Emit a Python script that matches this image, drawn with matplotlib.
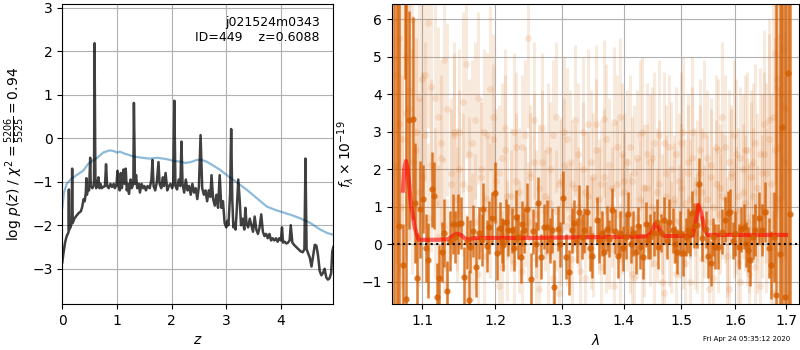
import numpy as np
import matplotlib
matplotlib.use("Agg")
import matplotlib.pyplot as plt
from matplotlib.ticker import FixedLocator, FormatStrFormatter, NullLocator, NullFormatter

# ---------------- left panel: log p(z) ----------------
pz_z = [0.00, 0.02, 0.05, 0.08, 0.10, 0.115, 0.12, 0.125, 0.15, 0.17, 0.18, 0.19, 0.22, 0.26, 0.30,
        0.34, 0.36, 0.39, 0.41, 0.43, 0.44, 0.45, 0.47, 0.49, 0.51, 0.52, 0.55, 0.57, 0.58, 0.59,
        0.605, 0.62, 0.65, 0.66, 0.68, 0.70, 0.72, 0.75, 0.78, 0.80, 0.82, 0.85, 0.88, 0.91, 0.94,
        0.96, 0.99, 1.01, 1.03, 1.05, 1.07, 1.09, 1.12, 1.14, 1.16, 1.18, 1.20, 1.22, 1.25, 1.27,
        1.30, 1.31, 1.33, 1.35, 1.37, 1.40, 1.42, 1.45, 1.48, 1.50, 1.53, 1.56, 1.60, 1.63, 1.65,
        1.67, 1.70, 1.73, 1.76, 1.78, 1.81, 1.84, 1.86, 1.89, 1.92, 1.95, 1.98, 2.01, 2.03, 2.05,
        2.07, 2.10, 2.13, 2.16, 2.18, 2.20, 2.23, 2.26, 2.29, 2.32, 2.35, 2.38, 2.41, 2.44, 2.47,
        2.50, 2.53, 2.56, 2.59, 2.62, 2.65, 2.68, 2.71, 2.73, 2.76, 2.79, 2.82, 2.85, 2.88, 2.91,
        2.94, 2.97, 3.00, 3.02, 3.04, 3.07, 3.09, 3.11, 3.13, 3.15, 3.17, 3.19, 3.22, 3.25, 3.27,
        3.30, 3.33, 3.35, 3.37, 3.40, 3.43, 3.46, 3.49, 3.52, 3.55, 3.58, 3.61, 3.64, 3.67, 3.70,
        3.73, 3.76, 3.79, 3.82, 3.85, 3.88, 3.91, 3.94, 3.97, 4.00, 4.02, 4.04, 4.07, 4.10, 4.13,
        4.16, 4.18, 4.21, 4.24, 4.28, 4.32, 4.36, 4.40, 4.43, 4.45, 4.47, 4.50, 4.53, 4.56, 4.59,
        4.62, 4.65, 4.68, 4.71, 4.74, 4.77, 4.80, 4.83, 4.86, 4.89, 4.92, 4.94, 4.96]
pz_logp = [-2.85, -2.65, -2.40, -2.25, -2.20, -2.15, -1.18, -2.10, -2.05, -1.95, -0.70, -1.95, -1.85, -1.78, -1.72,
           -1.68, -1.60, -1.40, -1.45, -1.25, -0.92, -1.30, -1.15, -1.20, -0.45, -1.10, -1.15, -1.10, -0.95, 2.18,
           -0.90, -1.15, -1.05, -0.90, -1.15, -1.05, -1.15, -1.12, -1.10, -0.60, -1.10, -1.15, -1.05, -1.12, -1.05,
           -1.15, -1.08, -0.75, -1.10, -1.20, -0.80, -1.15, -0.72, -1.05, -0.70, -1.20, -1.05, -1.28, -0.95, -1.15,
           -1.05, 0.81, -1.05, -0.85, -1.15, -1.05, -1.25, -1.05, -1.15, -1.10, -1.20, -1.10, -1.15, -0.95, -0.50,
           -1.10, -1.20, -1.00, -0.55, -1.05, -1.15, -0.90, -1.10, -0.80, -1.20, -1.10, -1.05, -1.15, -1.05, 0.86,
           -1.10, -1.18, -0.95, -1.10, -0.08, -1.05, -1.25, -0.95, -1.20, -1.10, -1.30, -1.05, -1.25, -1.15, -1.40,
           -1.10, 0.07, -1.15, -1.30, -1.20, -1.45, -1.20, -1.35, -0.85, -1.40, -1.55, -1.30, -1.60, -0.85, -1.60,
           -1.45, -1.95, -2.05, -1.90, -2.00, -1.30, 0.21, -1.40, -2.05, -1.95, -2.10, -1.70, -0.95, -1.50, -2.00,
           -1.85, -2.10, -1.60, -1.95, -2.05, -1.85, -2.00, -2.15, -1.80, -2.10, -2.20, -2.05, -1.75, -2.15, -2.25,
           -2.20, -2.30, -2.20, -2.35, -2.30, -2.35, -2.30, -2.38, -2.30, -2.35, -2.05, -2.40, -2.38, -2.42, -2.40,
           -2.35, -2.00, -2.40, -2.45, -2.50, -2.55, -2.60, -2.62, -2.55, -0.47, -2.55, -2.65, -2.75, -2.95, -2.70,
           -2.45, -2.47, -2.70, -3.05, -3.15, -3.10, -3.00, -3.20, -3.25, -3.22, -3.10, -2.60, -2.50]

prior_z = [0.00, 0.03, 0.08, 0.15, 0.26, 0.38, 0.48, 0.63, 0.75, 0.87, 0.95, 1.00, 1.05, 1.15, 1.30,
           1.45, 1.60, 1.73, 1.90, 2.03, 2.15, 2.25, 2.35, 2.46, 2.55, 2.64, 2.75, 2.89, 3.00, 3.13,
           3.25, 3.38, 3.55, 3.74, 3.90, 4.05, 4.20, 4.35, 4.54, 4.72, 4.85, 4.96]
prior_logp = [-1.60, -1.25, -1.05, -0.95, -0.85, -0.75, -0.58, -0.46, -0.33, -0.28, -0.30, -0.33, -0.31, -0.36, -0.42,
              -0.45, -0.47, -0.45, -0.48, -0.52, -0.54, -0.57, -0.55, -0.50, -0.50, -0.54, -0.62, -0.73, -0.84, -0.96,
              -1.07, -1.19, -1.37, -1.57, -1.65, -1.71, -1.77, -1.84, -1.95, -2.10, -2.18, -2.22]

obj_name = "j021524m0343"
obj_id = 449
z_best = 0.6088
chi2_num, chi2_den, chi2_red = 5206, 5525, 0.94
zticks = [0, 1, 2, 3, 4]
pz_yticks = [-3, -2, -1, 0, 1, 2, 3]

# ---------------- right panel: spectrum ----------------
light_wave = [1.066, 1.070, 1.074, 1.079, 1.083, 1.087, 1.092, 1.096, 1.100, 1.104,
              1.108, 1.112, 1.117, 1.121, 1.125, 1.129, 1.133, 1.138, 1.142, 1.146,
              1.150, 1.155, 1.159, 1.163, 1.167, 1.172, 1.176, 1.180, 1.184, 1.189,
              1.193, 1.197, 1.201, 1.206, 1.210, 1.214, 1.218, 1.223, 1.227, 1.231,
              1.235, 1.240, 1.244, 1.248, 1.252, 1.257, 1.261, 1.265, 1.269, 1.274,
              1.278, 1.282, 1.286, 1.291, 1.295, 1.299, 1.303, 1.308, 1.312, 1.316,
              1.320, 1.325, 1.329, 1.333, 1.337, 1.342, 1.346, 1.350, 1.354, 1.359,
              1.363, 1.367, 1.371, 1.376, 1.380, 1.384, 1.388, 1.393, 1.397, 1.401,
              1.405, 1.410, 1.414, 1.418, 1.422, 1.427, 1.431, 1.435, 1.439, 1.444,
              1.448, 1.452, 1.456, 1.461, 1.465, 1.469, 1.473, 1.478, 1.482, 1.486,
              1.490, 1.495, 1.499, 1.503, 1.507, 1.512, 1.516, 1.520, 1.524, 1.529,
              1.533, 1.537, 1.541, 1.546, 1.550, 1.554, 1.558, 1.563, 1.567, 1.571,
              1.575, 1.580, 1.584, 1.588, 1.592, 1.597, 1.601, 1.605, 1.609, 1.614,
              1.618, 1.622, 1.626, 1.631, 1.635, 1.639, 1.643, 1.648, 1.652, 1.656,
              1.660, 1.665, 1.669, 1.673, 1.677, 1.682, 1.686, 1.690, 1.694, 1.699]
light_flux_a = [4.5, 3.2, 2.8, 5.0, 3.6, 2.2, 3.0, 1.4, 4.4,
                2.9, 5.9, 4.2, 1.1, 3.4, 2.7, 0.5, 3.6, 1.9, 2.9, 0.8,
                3.0, 1.6, 4.8, 2.4, 0.2, 3.3, -0.8, 2.0, 3.0, 1.2,
                4.15, 2.8, 0.6, 1.9, -0.6, 2.5, 1.3, 0.9, 3.0, 1.7,
                0.2, 2.6, 1.0, 5.5, 1.8, 2.2, -0.4, 1.5, 3.1, 0.9,
                2.5, 1.1, -0.9, 3.4, 1.6, 0.4, 2.1, 2.8, 0.7, 1.6,
                3.3, 1.0, -0.7, 2.0, 1.4, 3.2, 0.3, 1.8, 2.5, 1.2,
                1.6, 3.35, 0.2, 2.1, 1.0, 3.25, 1.6, -0.4, 2.4, 1.4,
                0.8, 2.6, 1.7, -0.9, 2.3, 1.2, 3.0, 0.1, 1.5, 2.2,
                1.0, 2.7, 0.5, 1.6, -1.0, 2.7, 1.3, 0.4, 2.0, 1.1,
                2.4, 0.6, 1.5, 3.0, -0.5, 1.9, 1.2, 2.3, 0.3, 1.6,
                2.5, 1.4, 0.6, 2.3, -1.2, 1.8, 1.0, 2.6, 0.2, 1.5,
                3.4, 1.2, -0.3, 2.2, 1.9, 0.7, 2.4, 1.3, -1.0, 2.0,
                1.1, 2.5, 0.4, 1.8, 2.2, -0.6, 1.5, 2.4, 1.0, 3.2,
                1.9, 2.8, -0.8, 3.4, 5.1, 4.2, 2.6, 4.0, 3.7, 2.2]
light_err_a = [5.0, 4.0, 4.0, 4.5, 3.5, 3.0, 3.0, 2.5, 3.0,
               2.5, 2.8, 2.5, 2.0, 2.4, 2.2, 1.8, 2.3, 2.0, 2.2, 1.8,
               2.2, 1.9, 2.5, 2.0, 1.7, 2.1, 1.6, 1.9, 2.2, 1.7,
               2.2, 2.0, 1.6, 1.8, 1.5, 2.0, 1.7, 1.6, 2.1, 1.8,
               1.5, 1.9, 1.6, 2.4, 1.7, 1.8, 1.5, 1.7, 2.0, 1.6,
               1.8, 1.5, 1.4, 2.0, 1.7, 1.5, 1.8, 1.9, 1.5, 1.7,
               2.0, 1.6, 1.4, 1.8, 1.6, 2.0, 1.5, 1.7, 1.9, 1.6,
               1.7, 2.1, 1.5, 1.8, 1.6, 2.0, 1.7, 1.5, 1.9, 1.6,
               1.5, 1.9, 1.7, 1.4, 1.8, 1.6, 2.0, 1.5, 1.7, 1.8,
               1.6, 1.9, 1.5, 1.7, 1.4, 1.9, 1.6, 1.5, 1.8, 1.6,
               1.8, 1.5, 1.7, 2.0, 1.5, 1.8, 1.6, 1.9, 1.5, 1.7,
               1.9, 1.7, 1.5, 1.8, 1.5, 1.8, 1.6, 1.9, 1.5, 1.7,
               2.0, 1.7, 1.6, 1.9, 1.8, 1.6, 2.0, 1.8, 1.6, 2.0,
               1.8, 2.1, 1.7, 2.0, 2.1, 1.8, 2.0, 2.3, 1.9, 2.5,
               2.4, 2.8, 2.2, 3.0, 3.5, 3.5, 3.0, 4.0, 4.0, 3.5]
light_flux_b = [2.1, 5.5, 1.0, 3.5, 4.1, 6.0, 2.5, 3.9, 1.8,
                4.5, 0.7, 2.1, 3.9, 0.2, 2.3, 4.9, -0.6, 1.6, 3.0, 1.2,
                2.0, 3.8, -0.9, 1.5, 2.7, 0.6, 3.9, 1.8, -0.3, 2.9,
                0.9, 3.4, 1.7, -1.1, 2.3, 3.1, 0.1, 1.3, -0.5, 2.6,
                1.4, -0.7, 2.9, 0.6, 1.9, 3.3, 0.8, -1.2, 2.2, 1.3,
                -0.2, 2.0, 2.9, 0.9, -1.3, 1.7, 3.0, 0.5, 2.2, -0.4,
                1.5, 2.4, 0.6, 3.0, -0.9, 1.3, 2.2, 0.2, 3.2, 0.9,
                -0.6, 1.8, 2.8, 0.4, 1.5, -1.1, 2.6, 3.4, 0.8, 1.7,
                2.2, 0.3, -0.8, 1.9, 0.7, 2.9, -0.3, 1.5, 2.4, 0.5,
                2.3, -0.5, 1.4, 2.9, 0.8, -1.3, 1.9, 2.6, 0.2, 1.2,
                -0.8, 1.7, 2.7, 0.4, 1.1, 2.2, -1.0, 3.0, 1.4, 0.3,
                1.9, -0.4, 2.9, 1.2, 0.6, 2.1, -0.9, 1.6, 2.5, 0.8,
                1.3, 2.6, 0.2, -1.2, 1.8, 2.9, 0.9, -0.5, 2.3, 1.4,
                2.5, 0.6, -0.8, 2.1, 1.3, 2.7, 0.4, -1.1, 1.9, 2.4,
                0.9, 3.3, 1.6, -1.3, 2.5, 4.4, 1.2, 3.0, 5.2, 3.6]
light_err_b = [4.5, 5.0, 3.5, 3.8, 4.0, 4.5, 3.0, 3.5, 2.8,
               2.8, 2.0, 2.3, 2.6, 1.9, 2.2, 2.7, 1.8, 2.0, 2.4, 1.9,
               2.1, 2.4, 1.7, 1.9, 2.2, 1.8, 2.3, 2.0, 1.7, 2.2,
               1.8, 2.2, 1.9, 1.5, 2.0, 2.1, 1.6, 1.8, 1.5, 2.0,
               1.7, 1.5, 2.0, 1.6, 1.8, 2.1, 1.7, 1.4, 1.9, 1.7,
               1.5, 1.8, 2.0, 1.6, 1.4, 1.7, 2.0, 1.6, 1.9, 1.5,
               1.7, 1.9, 1.6, 2.0, 1.5, 1.7, 1.9, 1.6, 2.1, 1.7,
               1.5, 1.8, 2.0, 1.6, 1.7, 1.4, 1.9, 2.1, 1.6, 1.8,
               1.9, 1.6, 1.5, 1.8, 1.6, 2.0, 1.5, 1.7, 1.9, 1.6,
               1.9, 1.5, 1.7, 2.0, 1.6, 1.4, 1.8, 1.9, 1.5, 1.7,
               1.5, 1.8, 1.9, 1.6, 1.7, 1.8, 1.5, 2.0, 1.7, 1.6,
               1.8, 1.5, 2.0, 1.7, 1.6, 1.8, 1.5, 1.7, 1.9, 1.6,
               1.7, 1.9, 1.6, 1.5, 1.8, 2.0, 1.7, 1.5, 1.9, 1.8,
               2.0, 1.7, 1.6, 2.0, 1.8, 2.1, 1.7, 1.6, 2.1, 2.2,
               2.2, 2.7, 2.4, 2.2, 3.0, 3.5, 3.0, 3.5, 4.0, 4.0]

dark_wave = [1.0635, 1.0668, 1.0700, 1.0746, 1.0777, 1.0787, 1.0826, 1.0874, 1.0904, 1.0935,
             1.0970, 1.1013, 1.1045, 1.1079, 1.1124, 1.1159, 1.1191, 1.1226, 1.1260, 1.1295,
             1.1334, 1.1370, 1.1408, 1.1445, 1.1484, 1.1522, 1.1563, 1.1600, 1.1628, 1.1646,
             1.1690, 1.1726, 1.1770, 1.1811, 1.1833, 1.1881, 1.1915, 1.1952, 1.2001, 1.2033,
             1.2071, 1.2095, 1.2119, 1.2155, 1.2192, 1.2242, 1.2275, 1.2305, 1.2340, 1.2374,
             1.2400, 1.2428, 1.2473, 1.2524, 1.2554, 1.2600, 1.2638, 1.2674, 1.2725, 1.2775,
             1.2810, 1.2843, 1.2883, 1.2940, 1.2975, 1.3013, 1.3065, 1.3107, 1.3154, 1.3190,
             1.3230, 1.3274, 1.3310, 1.3349, 1.3402, 1.3440, 1.3480, 1.3554, 1.3595, 1.3636,
             1.3680, 1.3718, 1.3760, 1.3811, 1.3855, 1.3900, 1.3938, 1.3993, 1.4035, 1.4077,
             1.4115, 1.4152, 1.4208, 1.4240, 1.4276, 1.4322, 1.4374, 1.4410, 1.4448, 1.4523,
             1.4560, 1.4593, 1.4640, 1.4693, 1.4740, 1.4781, 1.4847, 1.4880, 1.4918, 1.4977,
             1.5037, 1.5080, 1.5127, 1.5160, 1.5189, 1.5228, 1.5280, 1.5327, 1.5383, 1.5440,
             1.5490, 1.5538, 1.5580, 1.5618, 1.5680, 1.5744, 1.5807, 1.5851, 1.5902, 1.5950,
             1.5997, 1.6061, 1.6110, 1.6158, 1.6200, 1.6235, 1.6288, 1.6340, 1.6386, 1.6451,
             1.6518, 1.6584, 1.6649, 1.6698, 1.6750, 1.6804, 1.6871, 1.6920, 1.6973, 1.7034,
             1.7089]
dark_flux = [7.0, -2.5, 0.5, -0.55, 8.0, -1.46, 3.31, 3.35, 1.09, -0.90,
             0.93, 1.20, -0.10, -0.42, 1.47, 1.30, -1.40, -0.91, -0.20, 0.30,
             -1.25, 0.10, 0.54, 0.20, 0.54, 0.57, -0.86, 0.05, -1.48, -0.06,
             0.35, -0.60, 0.30, 0.12, 0.93, -0.05, 0.45, 0.70, 1.38, -0.24,
             0.44, 0.10, -0.02, 0.60, 0.38, 0.38, -0.10, 0.74, 0.20, -0.33,
             0.55, 0.38, 0.93, -0.93, 0.35, 0.00, 1.09, -0.33, 0.47, 0.47,
             0.10, 0.38, -1.13, 0.42, 0.00, 1.24, -0.33, -0.75, 0.38, 0.57,
             0.10, 0.87, 0.20, 0.38, 0.87, -0.10, -0.31, 0.65, 0.10, 0.29,
             -0.20, 0.42, 0.15, 0.91, 0.35, -0.30, 0.29, -0.10, 0.20, 0.80,
             0.00, 0.29, -0.20, 0.50, -0.06, -0.33, 0.54, 0.10, 0.20, 0.29,
             0.60, -0.06, 0.30, 0.65, 0.10, 0.60, 0.38, 0.00, -0.20, 0.29,
             -0.24, 0.20, 0.38, 0.29, 0.83, 0.50, 0.51, 1.60, 0.16, 0.40,
             -0.30, -0.51, 0.20, -0.06, -0.06, 0.34, 0.65, 0.83, 0.87, 0.10,
             0.29, -0.06, 0.40, 0.47, 0.00, -0.15, -0.42, 0.20, 0.38, 0.70,
             0.38, 0.87, -0.10, -0.55, 0.20, -1.35, -0.27, 3.13, -1.40, 4.57,
             0.80]
dark_err = [10.0, 10.0, 9.0, 1.1, 3.6, 9.0, 2.9, 2.7, 1.6, 1.2,
            1.3, 0.9, 0.9, 1.0, 1.0, 0.9, 0.9, 0.9, 0.8, 0.9,
            0.8, 0.8, 0.8, 0.7, 0.8, 0.7, 0.8, 0.7, 0.8, 0.7,
            0.7, 0.8, 0.7, 0.7, 0.7, 0.7, 0.7, 0.7, 0.8, 0.7,
            0.7, 0.6, 0.7, 0.6, 0.7, 0.6, 0.6, 0.7, 0.6, 0.7,
            0.6, 0.6, 0.7, 0.7, 0.6, 0.6, 0.7, 0.6, 0.6, 0.7,
            0.6, 0.6, 0.7, 0.6, 0.6, 0.7, 0.6, 0.6, 0.6, 0.6,
            0.6, 0.7, 0.6, 0.6, 0.7, 0.6, 0.6, 0.6, 0.6, 0.6,
            0.6, 0.6, 0.5, 0.6, 0.6, 0.6, 0.6, 0.6, 0.6, 0.6,
            0.5, 0.6, 0.6, 0.5, 0.6, 0.6, 0.6, 0.5, 0.6, 0.6,
            0.6, 0.6, 0.5, 0.6, 0.5, 0.6, 0.6, 0.5, 0.6, 0.6,
            0.6, 0.5, 0.6, 0.6, 0.6, 0.6, 0.6, 0.7, 0.6, 0.5,
            0.6, 0.6, 0.5, 0.6, 0.6, 0.6, 0.6, 0.6, 0.6, 0.5,
            0.6, 0.6, 0.6, 0.6, 0.6, 0.6, 0.7, 0.6, 0.7, 0.7,
            0.7, 0.8, 0.8, 0.9, 1.2, 9.0, 9.0, 9.0, 9.0, 9.0,
            9.0]

model_wave = [1.0747, 1.0765, 1.0787, 1.0810, 1.0850, 1.0900, 1.0950, 1.1000, 1.1200, 1.1350,
              1.1420, 1.1470, 1.1520, 1.1580, 1.1640, 1.1700, 1.2000, 1.2500, 1.3000, 1.3500,
              1.4000, 1.4400, 1.4470, 1.4535, 1.4580, 1.4640, 1.4700, 1.4800, 1.5200, 1.5250,
              1.5304, 1.5360, 1.5420, 1.5480, 1.6000, 1.7000]
model_flux = [1.43, 2.00, 2.22, 2.00, 1.10, 0.45, 0.13, 0.12, 0.12, 0.14,
              0.24, 0.28, 0.25, 0.15, 0.13, 0.17, 0.17, 0.17, 0.18, 0.19,
              0.20, 0.21, 0.30, 0.55, 0.50, 0.30, 0.22, 0.22, 0.23, 0.50,
              1.05, 0.85, 0.40, 0.25, 0.25, 0.25]

wave_ticks = [1.1, 1.2, 1.3, 1.4, 1.5, 1.6, 1.7]
flux_ticks = [-1, 0, 1, 2, 3, 4, 5, 6]
timestamp = "Fri Apr 24 05:35:12 2020"

grism_color = (0.835, 0.369, 0.0)

fig = plt.figure(figsize=(8, 3.5), dpi=100)
ax1 = fig.add_axes([0.0779, 0.1314, 0.3388, 0.857])
ax2 = fig.add_axes([0.4896, 0.1314, 0.5095, 0.857])

# left
ax1.plot(prior_z, prior_logp, color='#1f77b4', alpha=0.5, lw=1.6)
ax1.plot(pz_z, pz_logp, color='k', alpha=0.75, lw=1.8)
ax1.set_xlim(0, 4.96)
ax1.set_ylim(-3.81, 3.08)
ax1.set_xticks(zticks)
ax1.set_yticks(pz_yticks)
ax1.grid(True)
ax1.set_xlabel(r'$z$')
ax1.set_ylabel(r'log $p(z)$ / $\chi^2=\frac{%d}{%d}=%.2f$' % (chi2_num, chi2_den, chi2_red))
ax1.text(0.95, 0.96, '%s\nID=%d    z=%.4f' % (obj_name, obj_id, z_best),
         ha='right', va='top', transform=ax1.transAxes, fontsize=9)

# right
ax2.set_xscale('log')
ax2.errorbar(light_wave, light_flux_a, yerr=light_err_a, marker='o', ms=5, ls='none',
             color=grism_color, alpha=0.13, elinewidth=2.2, mew=0)
ax2.errorbar(light_wave, light_flux_b, yerr=light_err_b, marker='o', ms=5, ls='none',
             color=grism_color, alpha=0.13, elinewidth=2.2, mew=0)
ax2.errorbar(dark_wave, dark_flux, yerr=dark_err, marker='o', ms=4.5, ls='none',
             color=grism_color, alpha=0.8, elinewidth=1.8, mew=0)
ax2.plot(model_wave, model_flux, color='r', alpha=0.6, lw=3)
ax2.axhline(0, color='k', ls=':', lw=1.5)
ax2.set_xlim(1.0604, 1.7273)
ax2.set_ylim(-1.59, 6.4)
ax2.xaxis.set_major_locator(FixedLocator(wave_ticks))
ax2.xaxis.set_major_formatter(FormatStrFormatter('%.1f'))
ax2.xaxis.set_minor_locator(NullLocator())
ax2.xaxis.set_minor_formatter(NullFormatter())
ax2.set_yticks(flux_ticks)
ax2.grid(True)
ax2.set_xlabel(r'$\lambda$')
ax2.set_ylabel(r'$f_\lambda\times10^{-19}$')

fig.text(0.9875, 0.031, timestamp, ha='right', va='center', fontsize=5)

fig.savefig('out.png', dpi=100)
